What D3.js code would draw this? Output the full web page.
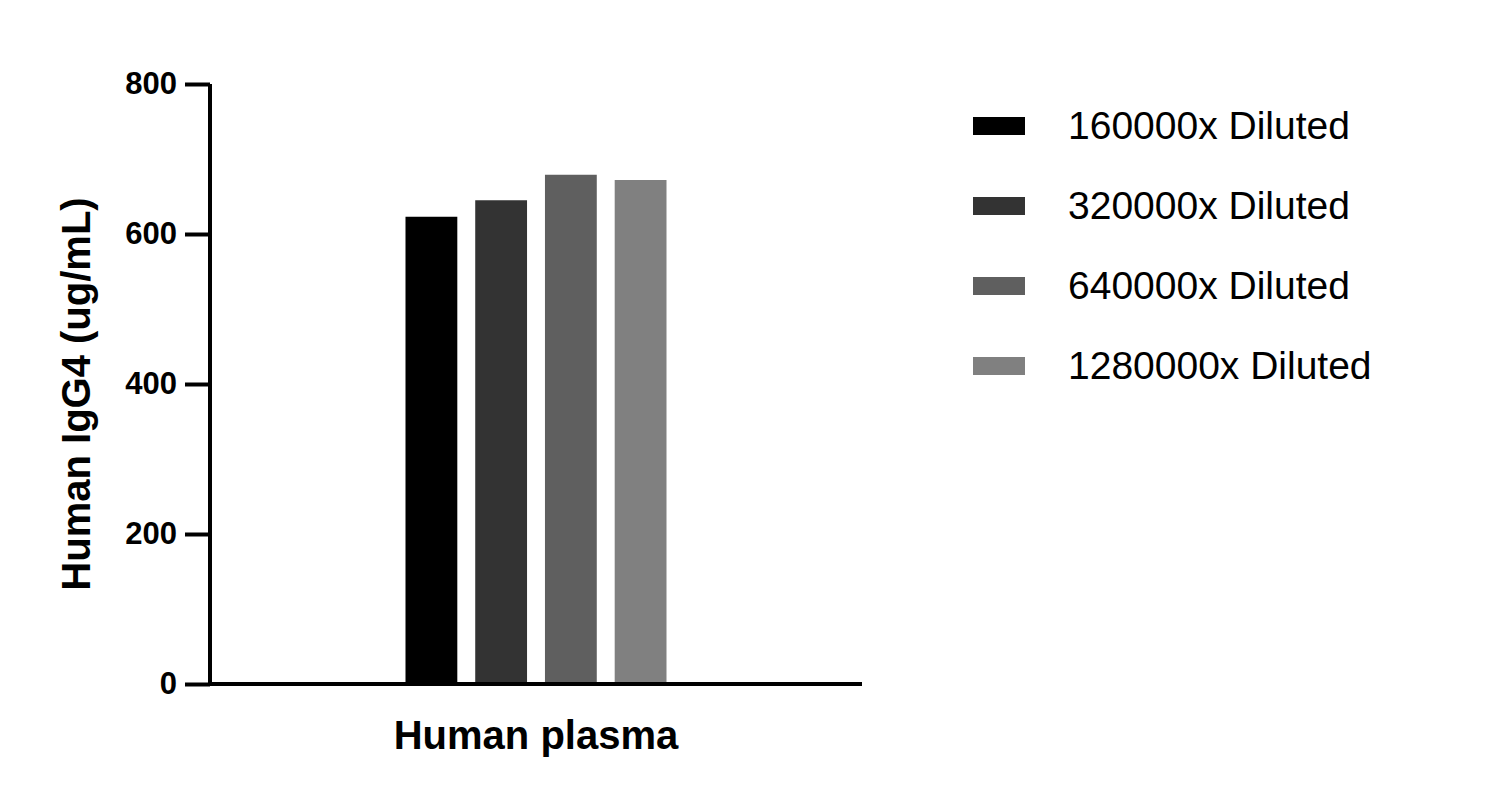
<!DOCTYPE html>
<html>
<head>
<meta charset="utf-8">
<script src="https://cdn.jsdelivr.net/npm/d3@7"></script>
<style>body{margin:0;background:#fff;font-family:Arial,"Liberation Sans",sans-serif;}</style>
</head>
<body>
<svg id="chart"></svg>
<script>
const categories = ["Human plasma"];
const series = ["160000x Diluted", "320000x Diluted", "640000x Diluted", "1280000x Diluted"];
const values = [623, 645, 679, 672];
const colors = ["#000000", "#333333", "#5f5f5f", "#808080"];
const yTicks = [0, 200, 400, 600, 800];

const width = 1485, height = 804;
const mLeft = 210, mRight = 862, mTop = 84, mBottom = 684;

const svg = d3.select("#chart").attr("width", width).attr("height", height);

const x0 = d3.scaleBand().domain(categories).range([mLeft, mRight]).paddingOuter(0.749).paddingInner(0);
const x1 = d3.scaleBand().domain(series).range([0, x0.bandwidth()]).paddingInner(0.257).paddingOuter(0);
const y = d3.scaleLinear().domain([0, 800]).range([mBottom, mTop]);
const color = d3.scaleOrdinal().domain(series).range(colors);

// bars
svg.append("g").selectAll("rect")
  .data(series.map((s, i) => ({ s, v: values[i], c: categories[0] })))
  .join("rect")
  .attr("x", d => x0(d.c) + x1(d.s))
  .attr("y", d => y(d.v))
  .attr("width", x1.bandwidth())
  .attr("height", d => y(0) - y(d.v))
  .attr("fill", d => color(d.s));

// y axis
const yAxis = svg.append("g").attr("transform", `translate(${mLeft},0)`)
  .call(d3.axisLeft(y).tickValues(yTicks).tickSize(25).tickPadding(8));
yAxis.select(".domain").attr("stroke-width", 4).attr("d", `M0,${mTop}V${mBottom}`);
yAxis.selectAll(".tick line").attr("stroke-width", 4);
yAxis.selectAll(".tick text").attr("font-size", 31).attr("font-weight", "bold")
  .attr("font-family", "Arial, Liberation Sans, sans-serif").attr("fill", "#000");

// x axis
svg.append("line").attr("x1", mLeft - 2).attr("x2", mRight).attr("y1", mBottom).attr("y2", mBottom)
  .attr("stroke", "#000").attr("stroke-width", 4);
svg.append("text").attr("x", x0(categories[0]) + x0.bandwidth() / 2).attr("y", 749)
  .attr("text-anchor", "middle").attr("font-size", 40).attr("font-weight", "bold")
  .text(categories[0]);

// y label
svg.append("text").attr("transform", `translate(90,${(mTop + mBottom) / 2 + 10}) rotate(-90)`)
  .attr("text-anchor", "middle").attr("font-size", 40).attr("font-weight", "bold")
  .text("Human IgG4 (ug/mL)");

// legend
const leg = svg.append("g").selectAll("g").data(series).join("g")
  .attr("transform", (d, i) => `translate(973,${125 + i * 80})`);
leg.append("rect").attr("y", -8).attr("width", 52).attr("height", 18).attr("fill", d => color(d));
leg.append("text").attr("x", 95).attr("y", 14).attr("font-size", 39).text(d => d);
</script>
</body>
</html>
